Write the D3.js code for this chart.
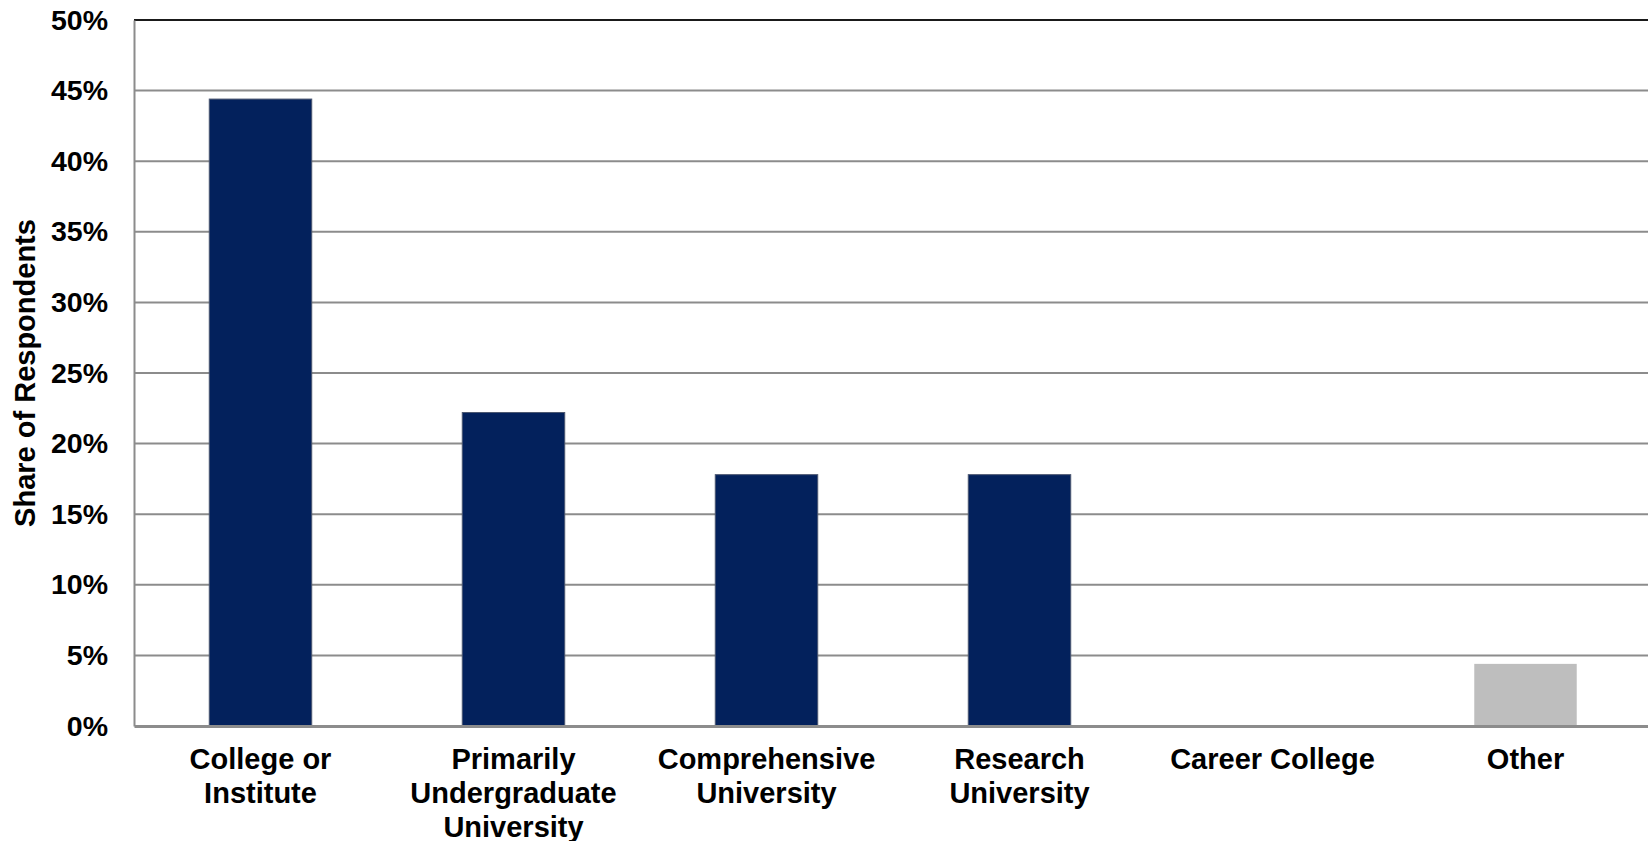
<!DOCTYPE html>
<html>
<head>
<meta charset="utf-8">
<script src="https://cdn.jsdelivr.net/npm/d3@7"></script>
<style>
  html, body { margin: 0; padding: 0; background: #ffffff; }
  svg { display: block; }
  text { font-family: "Liberation Sans", Arial, sans-serif; font-weight: bold; fill: #000; }
</style>
</head>
<body>
<svg id="chart" width="1648" height="841"></svg>
<script>
// Institution types and share of respondents (%)
const categories = ["College or Institute", "Primarily Undergraduate University", "Comprehensive University", "Research University", "Career College", "Other"];
const categoryLines = [["College or", "Institute"], ["Primarily", "Undergraduate", "University"], ["Comprehensive", "University"], ["Research", "University"], ["Career College"], ["Other"]];
const shares = [44.4, 22.2, 17.8, 17.8, 0, 4.4];
const barColors = ["#03215c", "#03215c", "#03215c", "#03215c", "#03215c", "#bebebe"];
const yTicks = [0, 5, 10, 15, 20, 25, 30, 35, 40, 45, 50];
const yTitle = "Share of Respondents";

const svg = d3.select("#chart");
const margin = { left: 134, top: 20, bottom: 115, right: -4 };
const W = 1648, H = 841;
const plotBottom = H - margin.bottom;

const x = d3.scaleBand()
  .domain(categories)
  .range([margin.left, W - margin.right])
  .paddingInner(0.595)
  .paddingOuter(0.2975);

const y = d3.scaleLinear().domain([0, 50]).range([plotBottom, margin.top]);

// horizontal gridlines
svg.append("g")
  .selectAll("line")
  .data(yTicks.filter(t => t > 0 && t < 50))
  .join("line")
  .attr("x1", margin.left).attr("x2", W)
  .attr("y1", d => y(d)).attr("y2", d => y(d))
  .attr("stroke", "#8c8c8c").attr("stroke-width", 2);

// top border of plot area
svg.append("line")
  .attr("x1", margin.left).attr("x2", W)
  .attr("y1", y(50)).attr("y2", y(50))
  .attr("stroke", "#1a1a1a").attr("stroke-width", 2);

// bars
svg.append("g")
  .selectAll("rect")
  .data(categories)
  .join("rect")
  .attr("x", d => x(d))
  .attr("width", x.bandwidth())
  .attr("y", (d, i) => y(shares[i]))
  .attr("height", (d, i) => plotBottom - y(shares[i]))
  .attr("fill", (d, i) => barColors[i])
  .attr("stroke", (d, i) => i < 5 ? "#4b5670" : "none")
  .attr("stroke-width", 1);

// y axis
const yAxis = d3.axisLeft(y)
  .tickValues(yTicks)
  .tickFormat(d => d + "%")
  .tickSize(0)
  .tickPadding(26);
const gy = svg.append("g")
  .attr("transform", `translate(${margin.left},0)`)
  .call(yAxis);
gy.select(".domain").attr("stroke", "#8c8c8c").attr("stroke-width", 2);
gy.selectAll("text")
  .attr("font-size", 28.5)
  .style("font-family", "'Liberation Sans', Arial, sans-serif")
  .style("font-weight", "bold")
  .attr("fill", "#000");

// x axis baseline
const xAxis = d3.axisBottom(x).tickSize(0).tickFormat("");
const gx = svg.append("g")
  .attr("transform", `translate(0,${plotBottom})`)
  .call(xAxis);
gx.select(".domain").attr("stroke", "#8c8c8c").attr("stroke-width", 3);

// multi-line category labels
svg.append("g")
  .selectAll("text")
  .data(categories)
  .join("text")
  .attr("text-anchor", "middle")
  .attr("font-size", 29)
  .attr("x", d => x(d) + x.bandwidth() / 2)
  .attr("y", plotBottom + 43)
  .each(function (d, i) {
    const t = d3.select(this);
    categoryLines[i].forEach((line, k) => {
      t.append("tspan")
        .attr("x", x(d) + x.bandwidth() / 2)
        .attr("dy", k === 0 ? 0 : 34)
        .text(line);
    });
  });

// y axis title
svg.append("text")
  .attr("transform", `translate(35,${(margin.top + plotBottom) / 2}) rotate(-90)`)
  .attr("text-anchor", "middle")
  .attr("font-size", 29)
  .text(yTitle);
</script>
</body>
</html>
